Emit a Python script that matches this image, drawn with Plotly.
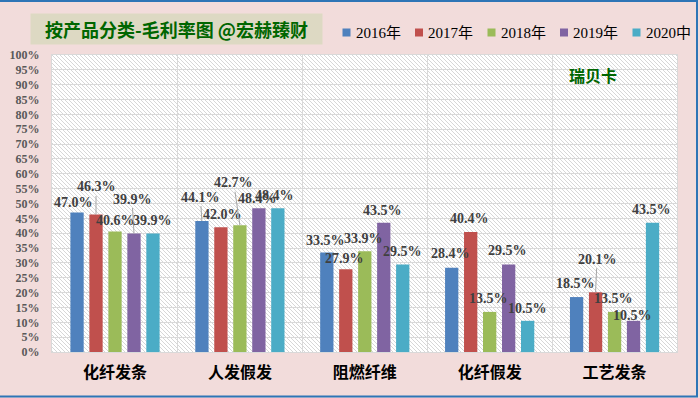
import base64
import plotly.graph_objects as go

# ---------------- data ----------------
categories = ["化纤发条", "人发假发", "阻燃纤维", "化纤假发", "工艺发条"]
series_names = ["2016年", "2017年", "2018年", "2019年", "2020中"]
v2016 = [47.0, 44.1, 33.5, 28.4, 18.5]
v2017 = [46.3, 42.0, 27.9, 40.4, 20.1]
v2018 = [40.6, 42.7, 33.9, 13.5, 13.5]
v2019 = [39.9, 48.4, 43.5, 29.5, 10.5]
v2020 = [39.9, 48.4, 29.5, 10.5, 43.5]
y_ticks = list(range(0, 101, 5))
title_text = "按产品分类-毛利率图 @宏赫臻财"
corner_note = "瑞贝卡"

series_values = [v2016, v2017, v2018, v2019, v2020]
colors = ["#4F81BD", "#C0504D", "#9BBB59", "#8064A2", "#4BACC6"]

# ---------------- label placement (pixel nudges, style only) ----------------
label_dx = [
    [-3.5, -1.5, -1.5, -1.0, -1.5],
    [0.0, 1.5, -1.5, -1.0, 1.5],
    [0.0, -6.2, -1.5, -1.5, -1.5],
    [-2.0, -1.5, -1.5, -1.5, -1.0],
    [-0.5, -3.8, -0.5, -0.5, -1.0],
]
label_dy = [
    [9.7, 24.0, 12.5, 13.7, 13.8],
    [27.5, 12.3, 10.8, 13.7, 33.0],
    [10.7, 42.5, 13.0, 13.6, 13.6],
    [34.5, 9.3, 12.8, 13.7, 5.1],
    [12.8, 12.6, 12.7, 12.8, 13.5],
]

W, H = 700, 398
ML, MR, MT, MB = 52, 23, 55, 46
PW, PH = W - ML - MR, H - MT - MB
BARGAP, GROUPGAP = 0.24, 0.3
slot = PW / len(categories) * (1 - BARGAP) / len(series_names)


def px2x(px):
    return (px - ML) / PW


def px2y(py):
    return (H - MB - py) / PH


fig = go.Figure()
for name, vals, col in zip(series_names, series_values, colors):
    fig.add_trace(go.Bar(x=categories, y=vals, name=name, marker_color=col,
                         marker_line_width=0, showlegend=False,
                         hovertemplate="%{x} " + name + ": %{y:.1f}%<extra></extra>"))

annotations = []
label_font = dict(family="Liberation Serif", size=14, color="#404040", weight="bold")
for i, vals in enumerate(series_values):
    for k, v in enumerate(vals):
        dx, dy = label_dx[i][k], label_dy[i][k]
        base = dict(x=categories[k], y=v, xref="x", yref="y", text=f"{v:.1f}%",
                    font=label_font, xshift=(i - 2) * slot)
        if dy > 20:
            annotations.append(dict(**base, showarrow=True, ax=dx, ay=-dy,
                                    arrowhead=0, arrowwidth=1, arrowcolor="#A6A6A6",
                                    standoff=0, startstandoff=0))
        else:
            annotations.append(dict(**base, showarrow=False, xanchor="center",
                                    yanchor="middle", yshift=dy))
            annotations[-1]["xshift"] += dx

# title box
annotations.append(dict(xref="paper", yref="paper", x=px2x(176.5), y=px2y(29),
                        text=title_text, showarrow=False, bgcolor="#DDD9C3",
                        width=289, height=28, xanchor="center", yanchor="middle",
                        font=dict(family="Noto Sans CJK SC", size=18, color="#006600",
                                  weight="bold")))
# corner note
annotations.append(dict(xref="paper", yref="paper", x=px2x(593), y=px2y(75),
                        text=corner_note, showarrow=False, xanchor="center",
                        yanchor="middle",
                        font=dict(family="Noto Sans CJK SC", size=16, color="#006600",
                                  weight="bold")))

# custom legend
shapes = []
leg_x0, leg_step, leg_y = 342.5, 72.5, 32.5
for i, (name, col) in enumerate(zip(series_names, colors)):
    sx = leg_x0 + i * leg_step
    shapes.append(dict(type="rect", xref="paper", yref="paper",
                       x0=px2x(sx), x1=px2x(sx + 8), y0=px2y(leg_y + 4), y1=px2y(leg_y - 4),
                       fillcolor=col, line_width=0))
    annotations.append(dict(xref="paper", yref="paper", x=px2x(sx + 11), y=px2y(leg_y),
                            text=name, showarrow=False, xanchor="left", yanchor="middle",
                            font=dict(family="Liberation Serif, Noto Sans CJK SC",
                                      size=15, color="#000000")))

# outer chart border (blue)
shapes.append(dict(type="rect", xref="paper", yref="paper",
                   x0=px2x(-3), x1=px2x(697), y0=px2y(396.5), y1=px2y(1),
                   line=dict(color="#2E75B6", width=2), fillcolor="rgba(0,0,0,0)"))

# hatched plot background
svg = (f'<svg xmlns="http://www.w3.org/2000/svg" width="{PW}" height="{PH}">'
       '<defs><pattern id="p" width="4" height="4" patternUnits="userSpaceOnUse">'
       '<rect width="4" height="4" fill="#FFFFFF"/>'
       '<path d="M-1,-1 L5,5 M-1,3 L1,5 M3,-1 L5,1" stroke="#D2D2D2" stroke-width="0.9"/>'
       '</pattern></defs><rect width="100%" height="100%" fill="url(#p)"/></svg>')
src = "data:image/svg+xml;base64," + base64.b64encode(svg.encode()).decode()

fig.update_layout(
    width=W, height=H,
    margin=dict(l=ML, r=MR, t=MT, b=MB, pad=0, autoexpand=False),
    paper_bgcolor="#F2DCDB",
    plot_bgcolor="rgba(0,0,0,0)",
    barmode="group", bargap=BARGAP, bargroupgap=GROUPGAP,
    annotations=annotations, shapes=shapes,
    images=[dict(source=src, xref="paper", yref="paper", x=0, y=1, sizex=1, sizey=1,
                 sizing="stretch", layer="below", xanchor="left", yanchor="top")],
    showlegend=False,
)
fig.update_xaxes(type="category", tickson="boundaries", showgrid=True,
                 gridcolor="#D9D9D9", gridwidth=1, ticks="", automargin=False,
                 showline=True, linecolor="#D9D9D9", mirror=True,
                 ticklabelstandoff=6,
                 tickfont=dict(family="Noto Sans CJK SC", size=16, color="#000000",
                               weight="bold"))
fig.update_yaxes(range=[0, 100], tickvals=y_ticks, ticktext=[f"{t}%" for t in y_ticks],
                 showgrid=True, gridcolor="#D9D9D9", gridwidth=1, zeroline=False,
                 showline=True, linecolor="#D9D9D9", mirror=True, ticks="",
                 automargin=False, ticklabelstandoff=9,
                 tickfont=dict(family="Liberation Serif", size=12, color="#595959",
                               weight="bold"))

fig.write_html("out.html", config={"displayModeBar": False},
               post_script="document.body.style.margin='0';")
